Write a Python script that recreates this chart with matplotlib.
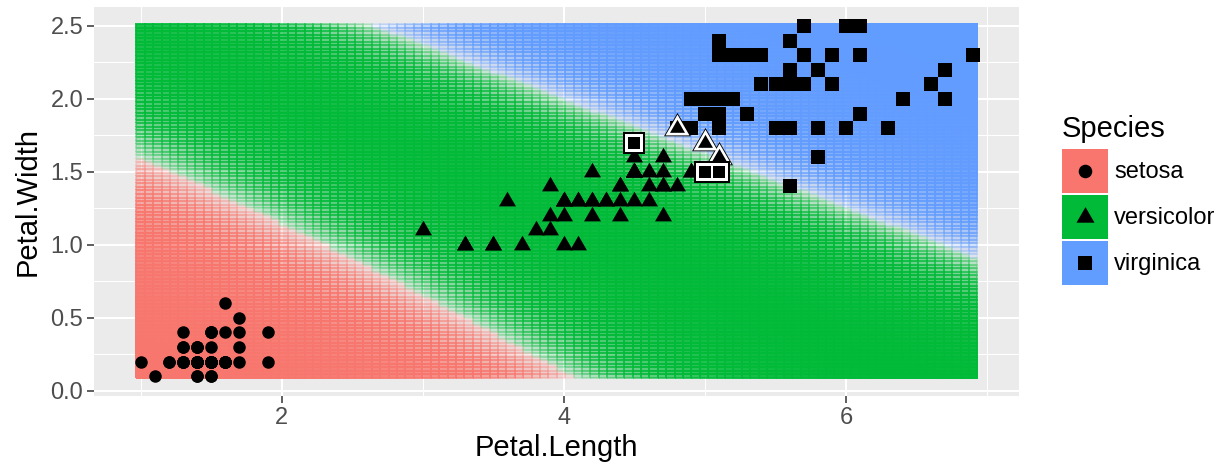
import numpy as np
import matplotlib.pyplot as plt
from matplotlib.colors import to_rgba
from matplotlib.patches import Rectangle

plt.rcParams['font.family'] = ['Liberation Sans', 'DejaVu Sans']

species = ['setosa', 'versicolor', 'virginica']
species_colors = ['#F8766D', '#00BA38', '#619CFF']

# iris petal measurements
setosa_length = [1.4, 1.4, 1.3, 1.5, 1.4, 1.7, 1.4, 1.5, 1.4, 1.5, 1.5, 1.6, 1.4, 1.1, 1.2, 1.5, 1.3,
                 1.4, 1.7, 1.5, 1.7, 1.5, 1.0, 1.7, 1.9, 1.6, 1.6, 1.5, 1.4, 1.6, 1.6, 1.5, 1.5, 1.4,
                 1.5, 1.2, 1.3, 1.4, 1.3, 1.5, 1.3, 1.3, 1.3, 1.6, 1.9, 1.4, 1.6, 1.4, 1.5, 1.4]
setosa_width = [0.2, 0.2, 0.2, 0.2, 0.2, 0.4, 0.3, 0.2, 0.2, 0.1, 0.2, 0.2, 0.1, 0.1, 0.2, 0.4, 0.4,
                0.3, 0.3, 0.3, 0.2, 0.4, 0.2, 0.5, 0.2, 0.2, 0.4, 0.2, 0.2, 0.2, 0.2, 0.4, 0.1, 0.2,
                0.2, 0.2, 0.2, 0.1, 0.2, 0.2, 0.3, 0.3, 0.2, 0.6, 0.4, 0.3, 0.2, 0.2, 0.2, 0.2]
versicolor_length = [4.7, 4.5, 4.9, 4.0, 4.6, 4.5, 4.7, 3.3, 4.6, 3.9, 3.5, 4.2, 4.0, 4.7, 3.6, 4.4, 4.5,
                     4.1, 4.5, 3.9, 4.8, 4.0, 4.9, 4.7, 4.3, 4.4, 4.8, 5.0, 4.5, 3.5, 3.8, 3.7, 3.9, 5.1,
                     4.5, 4.5, 4.7, 4.4, 4.1, 4.0, 4.4, 4.6, 4.0, 3.3, 4.2, 4.2, 4.2, 4.3, 3.0, 4.1]
versicolor_width = [1.4, 1.5, 1.5, 1.3, 1.5, 1.3, 1.6, 1.0, 1.3, 1.4, 1.0, 1.5, 1.0, 1.4, 1.3, 1.4, 1.5,
                    1.0, 1.5, 1.1, 1.8, 1.3, 1.5, 1.2, 1.3, 1.4, 1.4, 1.7, 1.5, 1.0, 1.1, 1.0, 1.2, 1.6,
                    1.5, 1.6, 1.5, 1.3, 1.3, 1.3, 1.2, 1.4, 1.2, 1.0, 1.3, 1.2, 1.3, 1.3, 1.1, 1.3]
virginica_length = [6.0, 5.1, 5.9, 5.6, 5.8, 6.6, 4.5, 6.3, 5.8, 6.1, 5.1, 5.3, 5.5, 5.0, 5.1, 5.3, 5.5,
                    6.7, 6.9, 5.0, 5.7, 4.9, 6.7, 4.9, 5.7, 6.0, 4.8, 4.9, 5.6, 5.8, 6.1, 6.4, 5.6, 5.1,
                    5.6, 6.1, 5.6, 5.5, 4.8, 5.4, 5.6, 5.1, 5.1, 5.9, 5.7, 5.2, 5.0, 5.2, 5.4, 5.1]
virginica_width = [2.5, 1.9, 2.1, 1.8, 2.2, 2.1, 1.7, 1.8, 1.8, 2.5, 2.0, 1.9, 2.1, 2.0, 2.4, 2.3, 1.8,
                   2.2, 2.3, 1.5, 2.3, 2.0, 2.0, 1.8, 2.1, 1.8, 1.8, 1.8, 2.1, 1.6, 1.9, 2.0, 2.2, 1.5,
                   1.4, 2.3, 2.4, 1.8, 1.8, 2.1, 2.4, 2.3, 1.9, 2.3, 2.5, 2.3, 1.9, 2.0, 2.3, 1.8]

# misclassified points (drawn with a white ring)
miss_versicolor_length = [4.8, 5.0, 5.1]
miss_versicolor_width = [1.8, 1.7, 1.6]
miss_virginica_length = [4.5, 5.0, 5.1]
miss_virginica_width = [1.7, 1.5, 1.5]

# where the predicted class switches (the white ridge)
rg_boundary_x = [0.97, 1.63, 2.34, 2.82, 3.29, 3.76, 3.99]
rg_boundary_y = [1.61, 1.31, 1.02, 0.72, 0.49, 0.28, 0.13]
gb_boundary_x = [2.84, 3.55, 4.19, 4.77, 5.25, 5.96, 6.67, 6.90]
gb_boundary_y = [2.43, 2.15, 1.95, 1.73, 1.51, 1.26, 1.01, 0.92]
rg_sharpness = 4.0
gb_sharpness = 5.5

all_length = np.array(setosa_length + versicolor_length + virginica_length)
all_width = np.array(setosa_width + versicolor_width + virginica_width)

# prediction grid
xs = np.linspace(all_length.min(), all_length.max(), 100)
ys = np.linspace(all_width.min(), all_width.max(), 100)
dx = xs[1] - xs[0]
dy = ys[1] - ys[0]
xe = np.append(xs - dx / 2, xs[-1] + dx / 2)
ye = np.append(ys - dy / 2, ys[-1] + dy / 2)
gx, gy = np.meshgrid(xs, ys)

g1 = rg_sharpness * (gy - np.polyval(np.polyfit(rg_boundary_x, rg_boundary_y, 2), gx))
g2 = gb_sharpness * (gy - np.polyval(np.polyfit(gb_boundary_x, gb_boundary_y, 1), gx))
logits = np.stack([np.zeros_like(g1), g1, g1 + g2])
logits -= logits.max(axis=0)
prob = np.exp(logits)
prob /= prob.sum(axis=0)
cls = prob.argmax(axis=0)
pmax = prob.max(axis=0)
alpha = 0.1 + 0.9 * (pmax - pmax.min()) / (pmax.max() - pmax.min())

rgba = np.array([to_rgba(c) for c in species_colors])[cls]
rgba[..., 3] = alpha

W, H = 1222, 471
fig = plt.figure(figsize=(W / 100, H / 100), dpi=100)
ax = fig.add_axes([94.3 / W, 75.4 / H, 925.1 / W, 389.1 / H])
ax.set_facecolor('#EBEBEB')

ax.pcolormesh(xe, ye, rgba, edgecolors='face', linewidth=0.3, zorder=1)

# points
tri = [(-1, -0.577), (1, -0.577), (0, 1.155)]
ax.scatter(setosa_length, setosa_width, s=81, marker='o', color='black', linewidths=0, zorder=3)
ax.scatter(versicolor_length, versicolor_width, s=199, marker=tri, color='black', linewidths=0, zorder=3)
ax.scatter(virginica_length, virginica_width, s=102, marker='s', color='black', linewidths=0, zorder=3)

for size, col in [(504, 'black'), (398, 'white'), (155, 'black')]:
    ax.scatter(miss_versicolor_length, miss_versicolor_width, s=size, marker=tri, color=col,
               linewidths=0, zorder=4)
for size, col in [(235, 'black'), (168, 'white'), (80, 'black')]:
    ax.scatter(miss_virginica_length, miss_virginica_width, s=size, marker='s', color=col,
               linewidths=0, zorder=4)

xr = xe[-1] - xe[0]
yr = ye[-1] - ye[0]
ax.set_xlim(xe[0] - 0.05 * xr, xe[-1] + 0.05 * xr)
ax.set_ylim(ye[0] - 0.05 * yr, ye[-1] + 0.05 * yr)

ax.set_xticks([2, 4, 6])
ax.set_xticks([1, 3, 5, 7], minor=True)
yt = [0.0, 0.5, 1.0, 1.5, 2.0, 2.5]
ax.set_yticks(yt)
ax.set_yticklabels(['%.1f' % v for v in yt])
ax.set_yticks([0.25, 0.75, 1.25, 1.75, 2.25], minor=True)

ax.set_axisbelow(True)
ax.grid(which='major', color='white', linewidth=1.5)
ax.grid(which='minor', color='white', linewidth=0.75)
for sp in ax.spines.values():
    sp.set_visible(False)
ax.tick_params(which='major', length=5, width=1.1, color='#333333', labelcolor='#4D4D4D',
               labelsize=17, pad=3)
ax.tick_params(which='minor', length=0)

ax.set_xlabel('Petal.Length', fontsize=21, labelpad=4)
ax.set_ylabel('Petal.Width', fontsize=21, labelpad=6)

# legend, drawn in pixel space
lax = fig.add_axes([0, 0, 1, 1])
lax.set_xlim(0, W)
lax.set_ylim(H, 0)
lax.axis('off')
lax.text(1062, 137, 'Species', fontsize=21, va='baseline', ha='left')
key_markers = [('o', 95), (tri, 225), ('s', 102)]
for i, name in enumerate(species):
    top = 149.3 + i * 45.8
    lax.add_patch(Rectangle((1062, top), 46, 43.7, facecolor=species_colors[i], edgecolor='none'))
    mk, sz = key_markers[i]
    lax.scatter([1085], [top + 21.85], s=sz, marker=mk, color='black', linewidths=0)
    lax.text(1114, top + 23, name, fontsize=17, va='center', ha='left')

fig.savefig('out.png', dpi=100)
